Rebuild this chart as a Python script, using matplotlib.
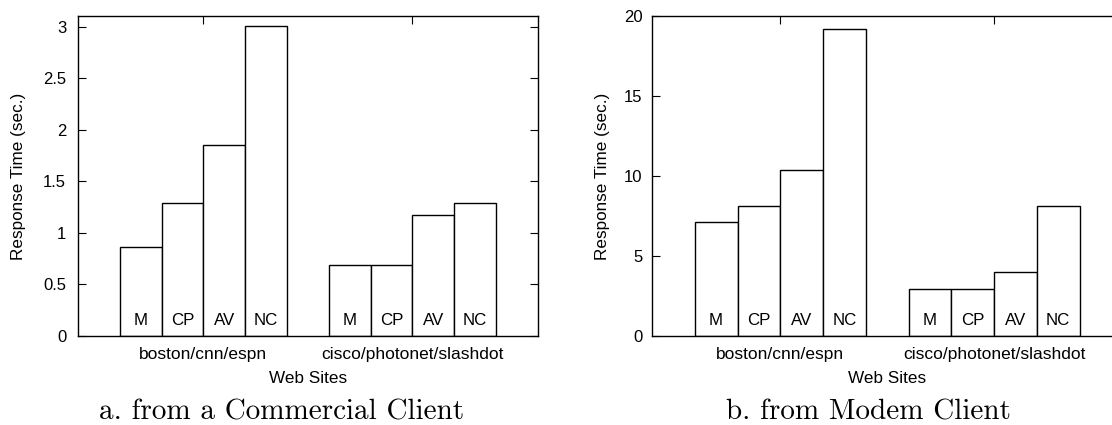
import matplotlib
matplotlib.use("Agg")
import matplotlib.pyplot as plt
import numpy as np

plt.rcParams['font.family'] = ['Liberation Sans', 'DejaVu Sans']

methods = ["M", "CP", "AV", "NC"]
groups = ["boston/cnn/espn", "cisco/photonet/slashdot"]
commercial = [[0.86, 1.29, 1.85, 3.01], [0.69, 0.69, 1.17, 1.29]]
modem = [[7.1, 8.1, 10.35, 19.17], [2.95, 2.95, 3.97, 8.13]]
captions = ["a. from a Commercial Client", "b. from Modem Client"]

W, H = 1112, 425
fig = plt.figure(figsize=(W / 100, H / 100), dpi=100)

def px_axes(l, r, t, b):
    return fig.add_axes([l / W, 1 - b / H, (r - l) / W, (b - t) / H])

ax1 = px_axes(78, 78 + 41.8 * 11, 16, 336)
ax2 = px_axes(652, 652 + 42.75 * 11, 16, 336)

def draw(ax, data, ylim, yticks, ytl, ypad, ylab_x):
    group_starts = [1, 6]
    for g, start in enumerate(group_starts):
        for i, v in enumerate(data[g]):
            x0 = start + i
            ax.bar(x0, v, width=1.0, align='edge', facecolor='white',
                   edgecolor='black', linewidth=1.0, zorder=2)
            ax.annotate(methods[i], xy=(x0 + 0.5, 0), xytext=(0, 11),
                        textcoords='offset points', ha='center', va='center',
                        fontsize=12.2, zorder=3)
    ax.set_xlim(0, 11)
    ax.set_ylim(*ylim)
    ax.set_xticks([3, 8])
    ax.set_xticklabels(groups, fontsize=12.5)
    ax.set_yticks(yticks)
    ax.set_yticklabels(ytl, fontsize=12)
    ax.tick_params(axis='both', direction='in', length=6, width=0.8,
                   top=True, right=True)
    ax.tick_params(axis='y', pad=ypad)
    ax.tick_params(axis='x', pad=8)
    ax.set_xlabel("Web Sites", fontsize=12.3, labelpad=6.5)
    ax.set_ylabel("Response Time (sec.)", fontsize=12.3)
    ax.yaxis.set_label_coords(ylab_x, 0.5)
    ax.yaxis.label.set_verticalalignment('center')
    for s in ax.spines.values():
        s.set_linewidth(1.0)
        s.set_zorder(4)

draw(ax1, commercial, (0, 3.105), [0, 0.5, 1, 1.5, 2, 2.5, 3],
     ["0", "0.5", "1", "1.5", "2", "2.5", "3"], 8.5, (18.3 - 78) / (41.8 * 11))
draw(ax2, modem, (0, 20), [0, 5, 10, 15, 20],
     ["0", "5", "10", "15", "20"], 7, (602.7 - 652) / (42.75 * 11))

fig.text(282 / W, 1 - 420 / H, captions[0], ha='center', va='baseline',
         fontsize=21, family=['cmr10', 'DejaVu Serif'])
fig.text(868.5 / W, 1 - 420 / H, captions[1], ha='center', va='baseline',
         fontsize=21, family=['cmr10', 'DejaVu Serif'])

fig.savefig("out.png", dpi=100)
